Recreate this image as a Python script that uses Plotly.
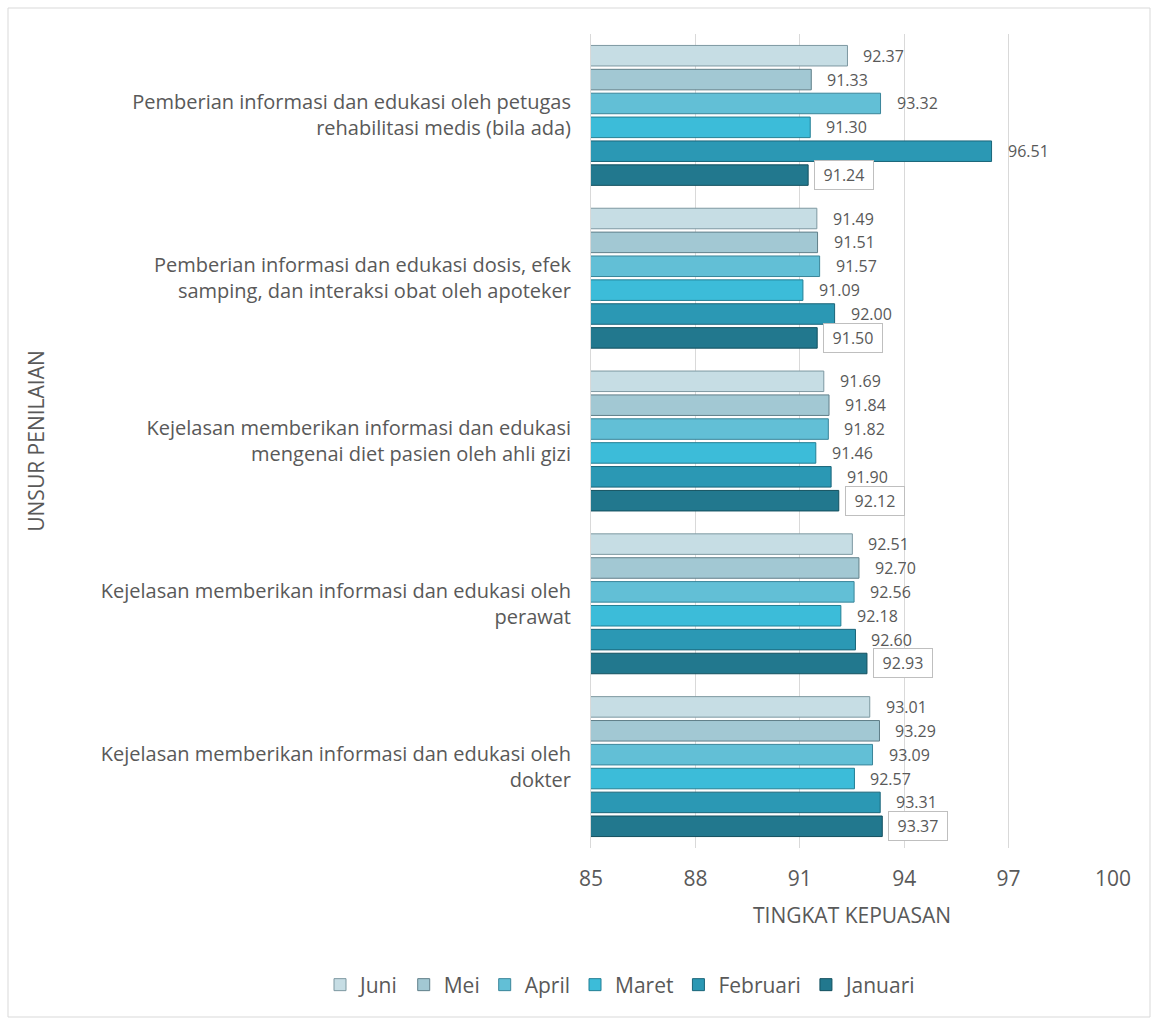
import plotly.graph_objects as go

categories = [
    "Kejelasan memberikan informasi dan edukasi oleh<br>dokter",
    "Kejelasan memberikan informasi dan edukasi oleh<br>perawat",
    "Kejelasan memberikan informasi dan edukasi<br>mengenai diet pasien oleh ahli gizi",
    "Pemberian informasi dan edukasi dosis, efek<br>samping, dan interaksi obat oleh apoteker",
    "Pemberian informasi dan edukasi oleh petugas<br>rehabilitasi medis (bila ada)",
]
januari = [93.37, 92.93, 92.12, 91.50, 91.24]
februari = [93.31, 92.60, 91.90, 92.00, 96.51]
maret = [92.57, 92.18, 91.46, 91.09, 91.30]
april = [93.09, 92.56, 91.82, 91.57, 93.32]
mei = [93.29, 92.70, 91.84, 91.51, 91.33]
juni = [93.01, 92.51, 91.69, 91.49, 92.37]

series = [
    ("Januari", januari, "#22788e", "#13505f"),
    ("Februari", februari, "#2b98b4", "#1a6579"),
    ("Maret", maret, "#3cbcd9", "#237f94"),
    ("April", april, "#62bfd6", "#3a8599"),
    ("Mei", mei, "#a2c8d3", "#607f89"),
    ("Juni", juni, "#c6dde4", "#7d98a1"),
]

W, H = 1155, 1019
ml, mr, mt, mb = 591, 42, 34, 171
bargap = 0.12
font = "'Open Sans', sans-serif"
txt = "#595959"

fig = go.Figure()
for name, vals, col, line in series:
    fig.add_trace(go.Bar(
        y=categories, x=vals, name=name, orientation="h",
        marker=dict(color=col, line=dict(color=line, width=1)),
        cliponaxis=False,
    ))

# value labels
plot_h = H - mt - mb
pw = W - ml - mr
cat_h = plot_h / len(categories)
group_h = cat_h * (1 - bargap)
slot = group_h / len(series)
for i, (name, vals, col, line) in enumerate(series):
    shift = -group_h / 2 + slot * (i + 0.5)
    boxed = name == "Januari"
    for cat, v in zip(categories, vals):
        fig.add_annotation(
            x=v, y=cat, xref="x", yref="y", text=f"{v:.2f}", showarrow=False,
            xanchor="left", xshift=6 if boxed else 15, yshift=shift,
            font=dict(size=16, color=txt, family=font),
            width=52 if boxed else None, align="center",
            bordercolor="#bfbfbf" if boxed else "rgba(0,0,0,0)",
            borderwidth=1, borderpad=3 if boxed else 0,
            bgcolor="white" if boxed else "rgba(0,0,0,0)",
        )

fig.add_shape(type="rect", xref="paper", yref="paper",
              x0=(8 - ml) / pw, x1=(1150 - ml) / pw,
              y0=-(1017 - (H - mb)) / plot_h, y1=1 + (mt - 8) / plot_h,
              line=dict(color="#d9d9d9", width=1), layer="below")

fig.update_layout(
    width=W, height=H,
    margin=dict(l=ml, r=mr, t=mt, b=mb),
    paper_bgcolor="white", plot_bgcolor="white",
    barmode="group", bargap=bargap, bargroupgap=0.14,
    font=dict(family=font, color=txt),
    legend=dict(orientation="h", traceorder="reversed",
                x=(320 - ml) / pw, xanchor="left",
                y=-(985 - (H - mb)) / plot_h, yanchor="middle",
                itemwidth=30, font=dict(size=21, color=txt)),
    showlegend=True,
)
fig.update_xaxes(range=[85, 100], tick0=85, dtick=3, showgrid=True,
                 gridcolor="#d9d9d9", gridwidth=1, zeroline=False,
                 tickfont=dict(size=21, color=txt), ticks="", ticklabelstandoff=16,
                 title=dict(text="TINGKAT KEPUASAN", font=dict(size=21, color=txt), standoff=17))
fig.update_yaxes(showgrid=False, zeroline=False, showline=True, linecolor="#d9d9d9",
                 tickfont=dict(size=20, color=txt), ticks="", ticklabelstandoff=15,
                 title=dict(text="UNSUR PENILAIAN", font=dict(size=21, color=txt), standoff=50))

fig.write_html("out.html", config={"displayModeBar": False},
               post_script="document.body.style.margin='0';")
